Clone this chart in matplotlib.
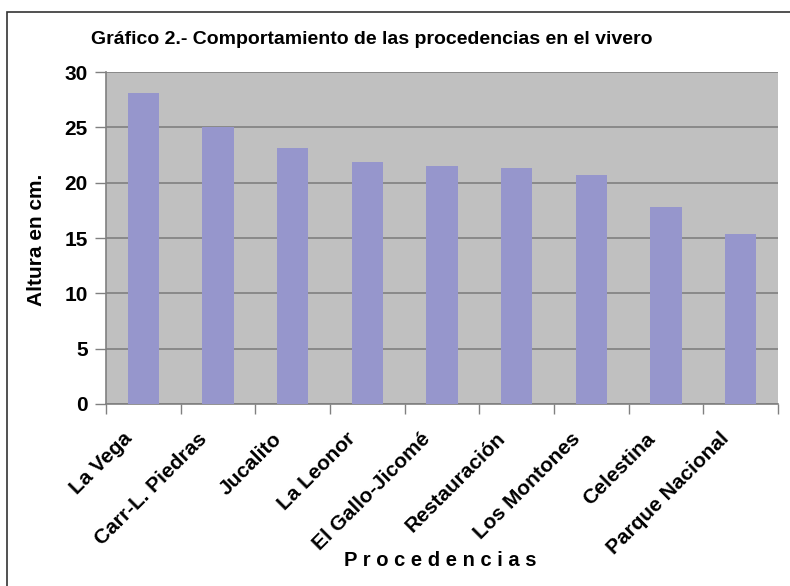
import matplotlib.pyplot as plt
import numpy as np
from matplotlib.patches import Rectangle
import matplotlib.transforms as mtransforms

# data
procedencias = ["La Vega", "Carr-L. Piedras", "Jucalito", "La Leonor", "El Gallo-Jicomé",
                "Restauración", "Los Montones", "Celestina", "Parque Nacional"]
altura = [28.1, 25.0, 23.1, 21.9, 21.5, 21.3, 20.7, 17.8, 15.4]
y_ticks = [0, 5, 10, 15, 20, 25, 30]

plt.rcParams['font.family'] = ['Liberation Sans', 'DejaVu Sans']

fig = plt.figure(figsize=(7.9, 5.86), dpi=100)
ax = fig.add_axes([0.134, 0.3106, 0.851, 0.5664])

# outer frame of the chart (right and bottom run off the picture)
fig.patches.append(Rectangle((7 / 790, -0.05), 1.2, 1 - 12 / 586 + 0.05,
                             transform=fig.transFigure, fill=False,
                             edgecolor="#333333", linewidth=1.2))

x = np.arange(len(procedencias))
ax.set_facecolor("#c0c0c0")
ax.bar(x, altura, width=0.42, color="#9696cc", zorder=3)

ax.set_xlim(-0.5, len(procedencias) - 0.5)
ax.set_ylim(0, 30)
ax.set_yticks(y_ticks)
ax.set_yticklabels([str(v) for v in y_ticks], fontsize=15, fontweight="bold")
ax.yaxis.grid(True, color="#808080", linewidth=1.2, zorder=1)
ax.tick_params(axis="y", length=8, color="#808080", width=1, pad=5)

# category labels between boundary ticks
ax.set_xticks(x)
ax.set_xticklabels(procedencias, rotation=45, ha="right", rotation_mode="anchor",
                   fontsize=15, fontweight="bold")
ax.tick_params(axis="x", length=0, pad=18)
shift = mtransforms.ScaledTranslation(-21 / 100, 0, fig.dpi_scale_trans)
for lab in ax.get_xticklabels():
    lab.set_transform(lab.get_transform() + shift)
ax.set_xticks(np.arange(len(procedencias) + 1) - 0.5, minor=True)
ax.tick_params(axis="x", which="minor", length=7, color="#808080", width=1)

for s in ["top", "right"]:
    ax.spines[s].set_visible(False)
for s in ["left", "bottom"]:
    ax.spines[s].set_color("#808080")
    ax.spines[s].set_linewidth(1.2)

fig.text(372 / 790, 1 - 40 / 586, "Gráfico 2.- Comportamiento de las procedencias en el vivero",
         ha="center", va="center", fontsize=14, fontweight="bold")
fig.text(36 / 790, 1 - 240 / 586, "Altura en cm.", rotation=90, ha="center", va="center",
         fontsize=15, fontweight="bold")
fig.text(440 / 790, 1 - 560 / 586, " ".join("Procedencias"), ha="center", va="center",
         fontsize=14.5, fontweight="bold")

fig.savefig("out.png", dpi=100)
